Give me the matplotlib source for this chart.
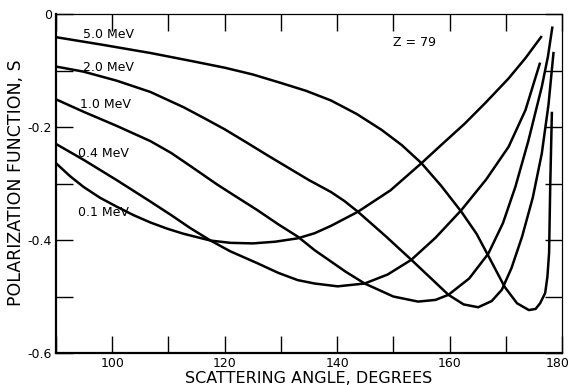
import numpy as np
import matplotlib
matplotlib.use('Agg')
import matplotlib.pyplot as plt
from matplotlib.ticker import MultipleLocator, FuncFormatter
from matplotlib.transforms import ScaledTranslation

# valores (angulo en grados, S)
ang_01 = [90, 92.5, 94.9, 97.8, 100.8, 103.8, 106.8, 109.8, 112.7, 117.5, 121.0, 125.0, 129.0, 133.0, 136.0, 138.9, 143.7, 149.5, 155.0, 158.5, 162.7, 166.5, 170.5, 173.5, 176.4]
s_01 = [-0.264, -0.287, -0.306, -0.325, -0.341, -0.356, -0.369, -0.380, -0.389, -0.401, -0.405, -0.406, -0.403, -0.397, -0.388, -0.375, -0.350, -0.312, -0.264, -0.232, -0.194, -0.156, -0.114, -0.078, -0.039]

ang_04 = [90, 94.9, 100.8, 106.8, 110.5, 113.9, 117.5, 121.0, 125.8, 129.5, 133.0, 136.0, 140.1, 144.9, 149.0, 153.2, 157.5, 162.1, 166.5, 170.5, 173.5, 176.1]
s_04 = [-0.230, -0.258, -0.294, -0.332, -0.356, -0.379, -0.401, -0.420, -0.441, -0.458, -0.471, -0.477, -0.482, -0.477, -0.461, -0.435, -0.396, -0.347, -0.293, -0.235, -0.170, -0.086]

ang_10 = [90, 94.9, 100.8, 106.8, 110.5, 113.9, 118.7, 122.0, 125.8, 129.5, 133.0, 136.0, 138.9, 141.5, 144.9, 150.0, 154.4, 157.5, 159.8, 163.5, 166.9, 169.5, 171.7, 174.0, 176.4, 177.5, 178.3]
s_10 = [-0.151, -0.173, -0.198, -0.225, -0.246, -0.269, -0.302, -0.323, -0.347, -0.372, -0.394, -0.418, -0.438, -0.456, -0.477, -0.500, -0.509, -0.506, -0.497, -0.468, -0.424, -0.370, -0.306, -0.225, -0.129, -0.075, -0.022]

ang_20 = [90, 94.9, 100.8, 106.8, 112.7, 116.3, 120.0, 124.0, 127.6, 131.8, 135.0, 138.9, 141.3, 143.7, 148.5, 153.2, 156.5, 159.8, 162.5, 165.1, 167.5, 169.3, 171.0, 172.9, 174.8, 176.4, 177.6, 178.5]
s_20 = [-0.093, -0.102, -0.118, -0.138, -0.165, -0.184, -0.204, -0.228, -0.250, -0.275, -0.294, -0.315, -0.331, -0.350, -0.392, -0.435, -0.466, -0.497, -0.514, -0.519, -0.508, -0.488, -0.450, -0.394, -0.325, -0.247, -0.160, -0.067]

ang_50 = [90, 98.0, 106.8, 114.0, 120.0, 125.0, 130.0, 134.5, 138.9, 143.5, 147.9, 151.5, 155.0, 158.5, 162.1, 164.8, 167.0, 169.8, 172.0, 174.1, 175.3, 176.1, 177.0, 177.4, 177.7, 177.9, 178.2]
s_50 = [-0.041, -0.054, -0.069, -0.083, -0.095, -0.107, -0.122, -0.136, -0.153, -0.177, -0.205, -0.232, -0.264, -0.304, -0.350, -0.389, -0.430, -0.483, -0.512, -0.524, -0.522, -0.512, -0.494, -0.465, -0.423, -0.306, -0.173]

curvas = [(ang_01, s_01), (ang_04, s_04), (ang_10, s_10), (ang_20, s_20), (ang_50, s_50)]

etiquetas = ['5.0 MeV', '2.0 MeV', '1.0 MeV', '0.4 MeV', '0.1 MeV']
etiq_x = [94.8, 94.8, 94.3, 93.9, 93.9]
etiq_y = [-0.037, -0.094, -0.161, -0.246, -0.352]

fig = plt.figure(figsize=(5.7, 3.85), dpi=100)
ax = fig.add_axes([0.0982, 0.0831, 0.8878, 0.8805])

for a, s in curvas:
    ax.plot(a, s, color='black', lw=1.8, solid_capstyle='butt')

for t, x, y in zip(etiquetas, etiq_x, etiq_y):
    ax.text(x, y, t, fontsize=9, va='center', ha='left')
ax.text(150, -0.051, 'Z = 79', fontsize=9, va='center', ha='left')

ax.set_xlim(90, 180)
ax.set_ylim(-0.6, 0)
ax.xaxis.set_major_locator(MultipleLocator(10))
ax.yaxis.set_major_locator(MultipleLocator(0.1))
ax.xaxis.set_major_formatter(FuncFormatter(lambda v, p: '%d' % v if int(round(v)) % 20 == 0 and v > 90 else ''))
ax.yaxis.set_major_formatter(FuncFormatter(lambda v, p: ('0' if abs(v) < 1e-9 else '%.1f' % v) if int(round(v * 10)) % 2 == 0 else ''))
ax.tick_params(direction='in', length=12, width=1.0, top=True, right=True, labelsize=9, pad=3)

for lado in ['left', 'bottom']:
    ax.spines[lado].set_linewidth(1.6)
for lado in ['top', 'right']:
    ax.spines[lado].set_linewidth(0.9)

fig.text(0.541, 0.006, 'SCATTERING ANGLE, DEGREES', fontsize=11.5, ha='center', va='baseline')
fig.text(0.028, 0.525, 'POLARIZATION FUNCTION, S', fontsize=12.5, ha='center', va='center', rotation=90)

# correr un poco la etiqueta 180 para que no quede cortada
fig.canvas.draw()
for lbl in ax.get_xticklabels():
    if lbl.get_text() == '180':
        lbl.set_transform(lbl.get_transform() + ScaledTranslation(-3 / 72, 0, fig.dpi_scale_trans))

plt.savefig('out.png', dpi=100)
